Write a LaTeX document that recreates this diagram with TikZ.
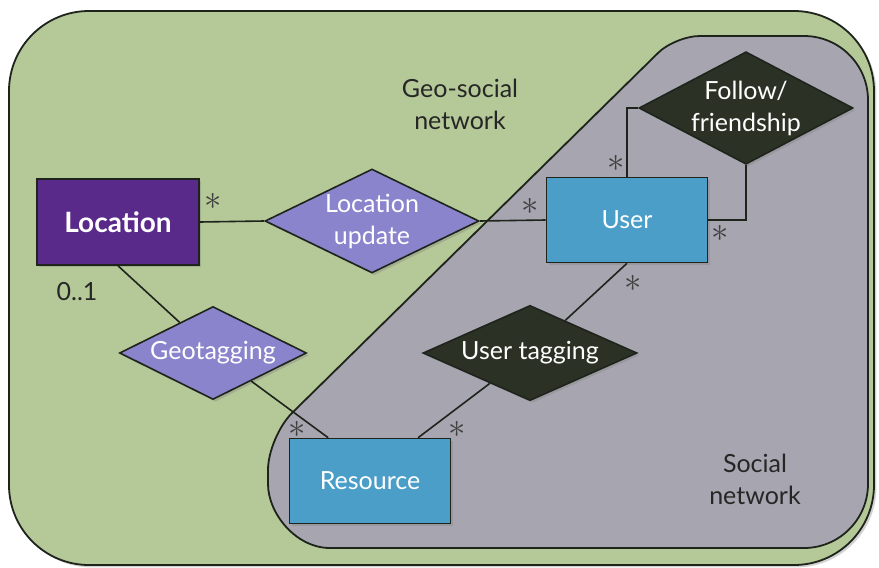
\documentclass[tikz,border=0pt]{standalone}
\usepackage{fontspec}
\setmainfont{Lato}
\usetikzlibrary{shapes.geometric,shadows}
\definecolor{geogreen}{HTML}{B5C898}
\definecolor{socialgrey}{HTML}{A7A5AF}
\definecolor{locpurple}{HTML}{5A2A8A}
\definecolor{relviolet}{HTML}{8A84CC}
\definecolor{entblue}{HTML}{4A9EC8}
\definecolor{reldark}{HTML}{2B3225}
\definecolor{edgedark}{HTML}{1E241C}
\newcommand{\many}[0]{$\ast$}

\begin{document}
\begin{tikzpicture}[x=0.5pt, y=-0.5pt, font=\fontsize{12.5}{16}\selectfont]
  \tikzset{
    softshadow/.style={drop shadow={shadow xshift=1.2pt, shadow yshift=-1.2pt, opacity=0.35}},
    entity/.style={rectangle, draw=edgedark, line width=0.8pt, fill=entblue, text=white,
      minimum width=80.5pt, minimum height=42.5pt, softshadow},
    relation/.style={diamond, draw=edgedark, line width=0.8pt, fill=relviolet, text=white,
      inner sep=0pt, align=center, aspect=1.9, minimum width=107pt, minimum height=48pt, softshadow},
    darkrel/.style={relation, fill=reldark},
    link/.style={draw=edgedark, line width=0.8pt},
    mult/.style={text=black!75, font=\fontsize{16}{16}\selectfont, inner sep=0pt},
    area/.style={text=black!85, align=center}
  }
  \useasboundingbox (0,0) rectangle (879,568);
  \draw[fill=geogreen, draw=edgedark, line width=0.9pt, rounded corners=40pt, softshadow]
    (9,11) rectangle (874,565);
  \draw[fill=socialgrey, draw=edgedark, line width=0.9pt]
    (500,548) -- (330,548) .. controls (295.8,548) and (268,513.3) .. (268,484)
    -- (268,470) .. controls (268,451.8) and (278.8,426.2) .. (292,413)
    -- (658,53) .. controls (667.4,43.6) and (686.2,36) .. (700,36)
    -- (804,36) .. controls (839.3,36) and (868,64.7) .. (868,100)
    -- (868,484) .. controls (868,519.3) and (839.3,548) .. (804,548) -- cycle;

  \node[area] (geosocial) at (460,104) {Geo-social\\network};
  \node[area] (social) at (755,479) {Social\\network};

  \node[entity, fill=locpurple, minimum width=81pt, minimum height=43pt, font=\fontsize{14}{16}\selectfont\bfseries]
    (loc) at (118,222) {Location};
  \node[entity] (user) at (627,220) {User};
  \node[entity] (res) at (370,481) {Resource};
  \node[relation] (locupd) at (372,221) {Location\\update};
  \node[relation, minimum width=93.5pt, minimum height=46.5pt] (geotag) at (213,353) {Geotagging};
  \node[darkrel, minimum height=46.5pt] (usertag) at (530,353) {User tagging};
  \node[darkrel, minimum height=55.5pt] (follow) at (746,108) {Follow/\\friendship};

  \draw[link] (loc.east) -- (locupd.west);
  \draw[link] (locupd.east) -- (user.west);
  \draw[link] (user.north) |- (follow.west);
  \draw[link] (follow.south) |- (user.east);
  \draw[link] (loc.south) -- (geotag);
  \draw[link] (geotag) -- (res.134);
  \draw[link] (usertag) -- (user.south);
  \draw[link] (usertag) -- (res.42);

  \node[mult] (m1) at (213,201) {\many};
  \node[mult] (m2) at (530,206) {\many};
  \node[mult] (m3) at (616,163) {\many};
  \node[mult] (m4) at (720,233) {\many};
  \node[mult] (m5) at (633,283) {\many};
  \node[mult] (m6) at (297,429) {\many};
  \node[mult] (m7) at (457,429) {\many};
  \node[text=black!85] (card) at (77,292) {0..1};
\end{tikzpicture}
\end{document}
